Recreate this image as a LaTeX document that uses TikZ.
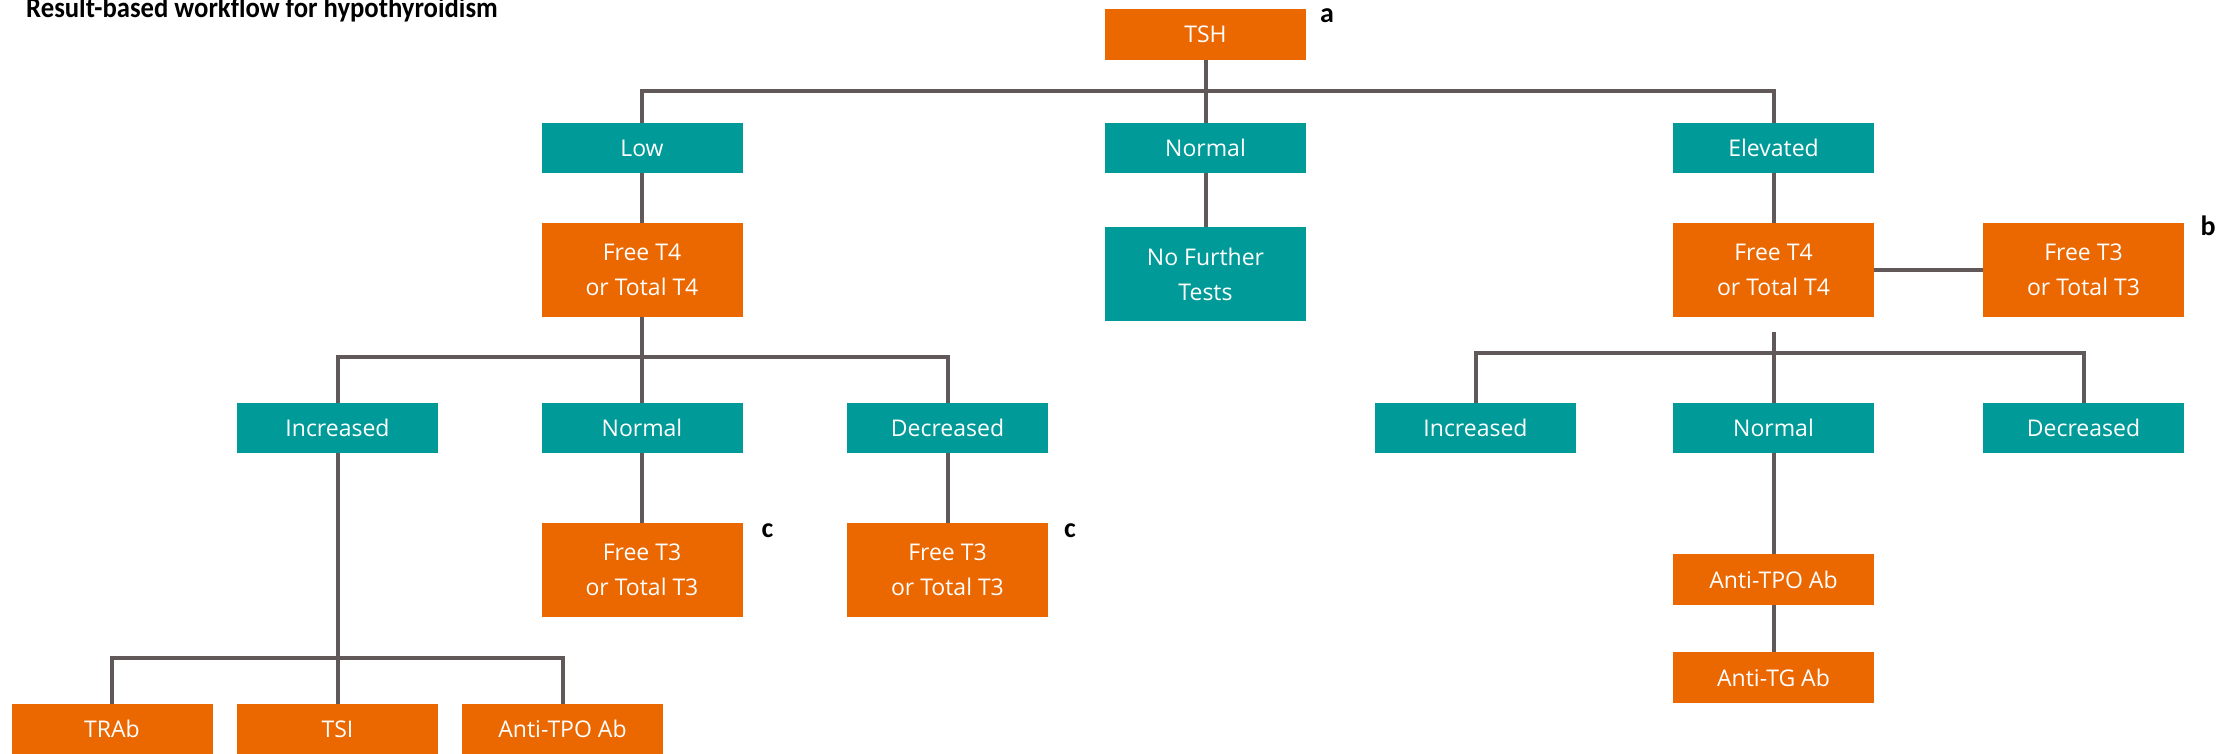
\documentclass[tikz,border=0pt]{standalone}
\usepackage{fontspec}
\setmainfont{Open Sans}
\newfontfamily\headfont{Carlito}
\definecolor{tsorange}{RGB}{235,103,0}
\definecolor{tsteal}{RGB}{0,155,152}
\definecolor{tsline}{RGB}{96,88,89}
\tikzset{
  box/.style={minimum width=201pt, inner sep=0pt, align=center, text=white,
    font=\fontsize{23}{35}\selectfont},
  testbox/.style={box, fill=tsorange},
  resultbox/.style={box, fill=tsteal},
  onerow/.style={minimum height=50pt},
  tworow/.style={minimum height=94pt},
  link/.style={draw=tsline, line width=4pt},
  note/.style={font=\headfont\fontsize{28}{28}\selectfont\bfseries, anchor=base, inner sep=0pt},
}
\begin{document}
\begin{tikzpicture}[x=1pt, y=-1pt]
\useasboundingbox (0,0) rectangle (2229,754);

% title
\node[anchor=base west, inner sep=0pt, font=\headfont\fontsize{29}{29}\selectfont\bfseries]
  (title) at (26,18) {\scalebox{0.92}[1]{Result-based workflow for hypothyroidism}};

% first test and its three outcomes
\node[testbox, onerow, minimum height=51pt] (tsh) at (1205.5,34.5) {TSH};
\node[note] (na) at (1327,23) {a};
\node[resultbox, onerow] (low) at (642,148) {Low};
\node[resultbox, onerow] (norm) at (1205.5,148) {Normal};
\node[resultbox, onerow] (elev) at (1773.5,148) {Elevated};

% second row
\node[testbox, tworow] (ft4l) at (642,270) {Free T4\\or Total T4};
\node[resultbox, tworow] (nft) at (1205.5,274) {No Further\\Tests};
\node[testbox, tworow] (ft4r) at (1773.5,270) {Free T4\\or Total T4};
\node[testbox, tworow] (ft3r) at (2083.5,270) {Free T3\\or Total T3};
\node[note] (nb) at (2208,236) {b};

% outcomes of free T4 on the low branch
\node[resultbox, onerow] (incl) at (337.5,428) {Increased};
\node[resultbox, onerow] (norml) at (642,428) {Normal};
\node[resultbox, onerow] (decl) at (947.5,428) {Decreased};

% outcomes of free T4 on the elevated branch
\node[resultbox, onerow] (incr) at (1475.5,428) {Increased};
\node[resultbox, onerow] (normr) at (1773.5,428) {Normal};
\node[resultbox, onerow] (decr) at (2083.5,428) {Decreased};

% follow-up T3 tests
\node[testbox, tworow] (ft3a) at (642,570) {Free T3\\or Total T3};
\node[testbox, tworow] (ft3b) at (947.5,570) {Free T3\\or Total T3};
\node[note] (nc1) at (767.5,537) {c};
\node[note] (nc2) at (1070,537) {c};

% antibody tests
\node[testbox, onerow] (trab) at (112,729) {TRAb};
\node[testbox, onerow] (tsi) at (337.5,729) {TSI};
\node[testbox, onerow] (tpol) at (562.5,729) {Anti-TPO Ab};
\node[testbox, onerow, minimum height=51pt] (tpor) at (1773.5,579.5) {Anti-TPO Ab};
\node[testbox, onerow, minimum height=51pt] (tgr) at (1773.5,677.5) {Anti-TG Ab};

% bus lines
\coordinate (bus1) at (1205.5,91);
\coordinate (bus2) at (642,357);
\coordinate (stub3) at (1773.5,332);
\coordinate (bus3) at (1773.5,353);
\coordinate (bus4) at (337.5,658);

\draw[link] (tsh) -- (bus1) -- (norm);
\draw[link] (low.north) -- (low.north |- bus1) -- (elev.north |- bus1) -- (elev.north);

\draw[link] (low) -- (ft4l);
\draw[link] (norm) -- (nft);
\draw[link] (elev) -- (ft4r);
\draw[link] (ft4r) -- (ft3r);

\draw[link] (ft4l) -- (bus2) -- (norml);
\draw[link] (incl.north) -- (incl.north |- bus2) -- (decl.north |- bus2) -- (decl.north);

\draw[link] (stub3) -- (bus3) -- (normr);
\draw[link] (incr.north) -- (incr.north |- bus3) -- (decr.north |- bus3) -- (decr.north);

\draw[link] (norml) -- (ft3a);
\draw[link] (decl) -- (ft3b);

\draw[link] (incl) -- (tsi);
\draw[link] (trab.north) -- (trab.north |- bus4) -- (tpol.north |- bus4) -- (tpol.north);

\draw[link] (normr) -- (tpor);
\draw[link] (tpor) -- (tgr);
\end{tikzpicture}
\end{document}
